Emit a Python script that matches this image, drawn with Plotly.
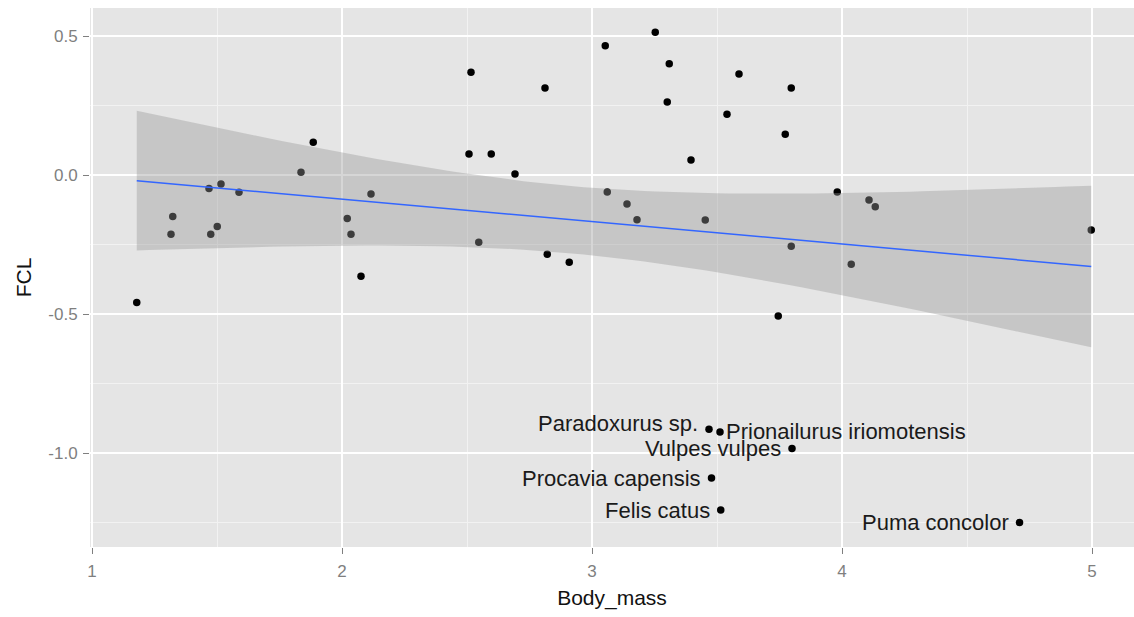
import numpy as np
import plotly.graph_objects as go

# ---- data ----
body_mass = [1.179, 1.885, 1.836, 1.323, 1.316, 1.468, 1.516, 1.588, 1.501, 1.475,
             2.021, 2.036, 2.116, 2.076, 2.516, 2.508, 2.597, 2.692, 2.547, 2.812,
             2.821, 2.909, 3.053, 3.253, 3.309, 3.301, 3.588, 3.540, 3.396, 3.061,
             3.140, 3.180, 3.453, 3.745, 3.797, 3.773, 3.981, 4.108, 4.133, 3.797,
             4.037, 4.997]
fcl = [-0.458, 0.118, 0.010, -0.149, -0.213, -0.048, -0.032, -0.062, -0.185, -0.213,
       -0.156, -0.213, -0.068, -0.364, 0.370, 0.076, 0.076, 0.004, -0.242, 0.313,
       -0.285, -0.314, 0.465, 0.514, 0.400, 0.263, 0.364, 0.219, 0.054, -0.061,
       -0.104, -0.161, -0.162, -0.507, 0.313, 0.147, -0.061, -0.090, -0.114, -0.256,
       -0.321, -0.198]

label_species = ["Paradoxurus sp.", "Prionailurus iriomotensis", "Vulpes vulpes",
                 "Procavia capensis", "Felis catus", "Puma concolor"]
label_mass = [3.468, 3.512, 3.800, 3.478, 3.515, 4.710]
label_fcl = [-0.914, -0.924, -0.984, -1.090, -1.205, -1.250]

x_ticks = [1, 2, 3, 4, 5]
y_ticks = [0.5, 0.0, -0.5, -1.0]
y_tick_text = ["0.5", "0.0", "-0.5", "-1.0"]

# ---- linear fit with 95% confidence band (geom_smooth(method="lm")) ----
xa = np.array(body_mass + label_mass)
ya = np.array(fcl + label_fcl)
n = len(xa)
X = np.column_stack([np.ones(n), xa])
beta, *_ = np.linalg.lstsq(X, ya, rcond=None)
resid = ya - X @ beta
s2 = (resid ** 2).sum() / (n - 2)
xbar = xa.mean()
sxx = ((xa - xbar) ** 2).sum()
grid = np.linspace(xa.min(), xa.max(), 80)
fit = beta[0] + beta[1] * grid
se = np.sqrt(s2 * (1.0 / n + (grid - xbar) ** 2 / sxx))
tq = 2.0129  # t(0.975, df=46)
upper = fit + tq * se
lower = fit - tq * se

fig = go.Figure()
fig.add_trace(go.Scatter(
    x=xa, y=ya, mode="markers",
    marker=dict(color="black", size=7.5, line=dict(width=0)),
    hoverinfo="skip"))
fig.add_trace(go.Scatter(
    x=np.concatenate([grid, grid[::-1]]),
    y=np.concatenate([upper, lower[::-1]]),
    fill="toself", fillcolor="rgba(153,153,153,0.4)",
    line=dict(width=0), mode="lines", hoverinfo="skip"))
fig.add_trace(go.Scatter(
    x=grid, y=fit, mode="lines",
    line=dict(color="#3366FF", width=1.5), hoverinfo="skip"))

for name, xv, yv in zip(label_species, label_mass, label_fcl):
    right_side = name.startswith("Prionailurus")
    fig.add_annotation(
        x=xv, y=yv, text=name, showarrow=False,
        xanchor="left" if right_side else "right",
        xshift=4 if right_side else -9,
        yshift=6 if name.startswith("Paradoxurus") else 0,
        font=dict(family="Liberation Sans, Arial", size=22, color="#1a1a1a"))

tick_font = dict(family="Liberation Sans, Arial", size=17, color="#7F7F7F")
title_font = dict(family="Liberation Sans, Arial", size=21, color="#111111")

fig.update_layout(
    width=1134, height=617,
    margin=dict(l=90, r=0, t=8, b=70, pad=0),
    paper_bgcolor="white", plot_bgcolor="#E5E5E5",
    showlegend=False,
    xaxis=dict(
        range=[0.992, 5.168], tickmode="array", tickvals=x_ticks,
        ticktext=[str(v) for v in x_ticks],
        showgrid=True, gridcolor="white", gridwidth=1.6,
        minor=dict(dtick=0.5, tick0=0.5, showgrid=True, gridcolor="#F2F2F2",
                   gridwidth=1, ticklen=0),
        zeroline=False, showline=False,
        ticks="outside", ticklen=6, tickcolor="#7F7F7F", tickwidth=1,
        tickfont=tick_font, ticklabelstandoff=3,
        title=dict(text="Body_mass", font=title_font, standoff=9),
        automargin=False),
    yaxis=dict(
        range=[-1.338, 0.601], tickmode="array", tickvals=y_ticks,
        ticktext=y_tick_text,
        showgrid=True, gridcolor="white", gridwidth=1.6,
        minor=dict(dtick=0.25, tick0=0.25, showgrid=True, gridcolor="#F2F2F2",
                   gridwidth=1, ticklen=0),
        zeroline=False, showline=False,
        ticks="outside", ticklen=6, tickcolor="#7F7F7F", tickwidth=1,
        tickfont=tick_font, ticklabelstandoff=2,
        title=dict(text="FCL", font=title_font, standoff=10),
        automargin=False),
)

fig.write_html("out.html")
